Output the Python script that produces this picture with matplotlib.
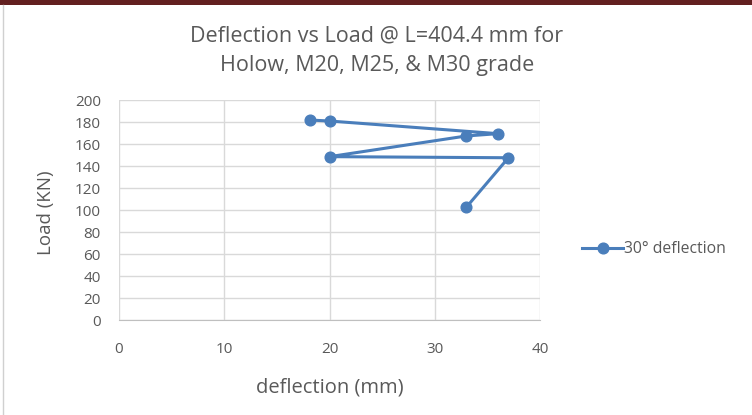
import matplotlib
matplotlib.use("Agg")
import matplotlib.pyplot as plt
from matplotlib.lines import Line2D
from matplotlib.patches import Rectangle

plt.rcParams['font.family'] = ['Open Sans', 'DejaVu Sans']

deflection = [33, 37, 20, 33, 36, 20, 18.1]
load = [102.5, 147.5, 148.5, 167.3, 169.4, 180.9, 181.8]
series_name = "30\u00b0 deflection"
x_ticks = [0, 10, 20, 30, 40]
y_ticks = list(range(0, 201, 20))
title_lines = ['Deflection vs Load @ L=404.4 mm for', 'Holow, M20, M25, & M30 grade']

W, H = 752, 415
fig = plt.figure(figsize=(W / 100, H / 100), dpi=100)
fig.patch.set_facecolor('white')

# top dark bar and left edge line
fig.add_artist(Rectangle((0, 1 - 5 / H), 1, 5 / H, transform=fig.transFigure,
                         facecolor='#632020', edgecolor='none'))
fig.add_artist(Line2D([3 / W, 3 / W], [0, 1 - 5 / H], transform=fig.transFigure,
                      color='#d0d0d0', lw=1))

left, right, top, bottom = 119, 540, 100, 320
ax = fig.add_axes([left / W, 1 - bottom / H, (right - left) / W, (bottom - top) / H])

color = '#4a7ebb'
ax.plot(deflection, load, color=color, lw=2.2, marker='o', markersize=7.7,
        label=series_name, zorder=3)

ax.set_xlim(0, 40)
ax.set_ylim(0, 200)
ax.set_xticks(x_ticks)
ax.set_yticks(y_ticks)
ax.grid(True, color='#d9d9d9', lw=1)
ax.set_axisbelow(True)
for s in ['top', 'right', 'left']:
    ax.spines[s].set_visible(False)
ax.spines['bottom'].set_color('#bfbfbf')
ax.tick_params(axis='both', length=0, colors='#595959', labelsize=11)
ax.tick_params(axis='x', pad=16)
ax.tick_params(axis='y', pad=13)

xl = ax.set_xlabel('deflection (mm)', fontsize=14.5, color='#595959')
xl.set_va('center')
ax.xaxis.set_label_coords((330 - left) / (right - left), -(387 - bottom) / (bottom - top))
yl = ax.set_ylabel('Load (KN)', fontsize=13.5, color='#595959')
yl.set_va('center')
ax.yaxis.set_label_coords((46 - left) / (right - left), 0.49)

fig.text(377 / W, 1 - 36 / H, title_lines[0], ha='center', va='center',
         fontsize=15.5, color='#595959')
fig.text(377 / W, 1 - 66 / H, title_lines[1], ha='center', va='center',
         fontsize=15.5, color='#595959')

leg = fig.legend(handles=[Line2D([], [], color=color, lw=2.2, marker='o', markersize=7.7)],
                 labels=[series_name], loc='center left',
                 bbox_to_anchor=(568 / W, 1 - 249 / H), frameon=False,
                 fontsize=11.3, handlelength=2.6, handletextpad=0.1, labelcolor='#595959')

fig.savefig('out.png', dpi=100)
